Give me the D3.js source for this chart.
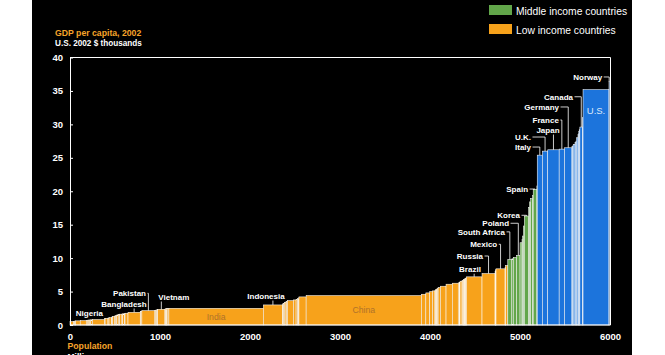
<!DOCTYPE html>
<html><head><meta charset="utf-8">
<script src="https://cdn.jsdelivr.net/npm/d3@7"></script>
<style>
html,body{margin:0;padding:0;background:#fff;}
svg{display:block;font-family:"Liberation Sans",Arial,Helvetica,sans-serif;}
</style></head><body>
<svg id="chart" width="665" height="355"></svg>
<script>
// ---------- DATA ----------
const countries = [
 "Sierra Leone","Tanzania","Malawi","Burundi","Eritrea","Congo, Dem. Rep.","Ethiopia","Niger","Mali","Madagascar",
 "Zambia","Mozambique","Nigeria","Chad","Kenya","Burkina Faso","Uganda","Benin","Rwanda","Nepal",
 "Cambodia","Senegal","Cameroon","Côte d'Ivoire","Uzbekistan","Haiti","Ghana","Laos","Sudan","Bangladesh",
 "Kyrgyzstan","Zimbabwe","Pakistan","Papua New Guinea","Angola","Azerbaijan","Moldova","Vietnam","Guinea","Georgia",
 "Tajikistan","Togo","Yemen","India","Indonesia","Nicaragua","Honduras","Bolivia","Sri Lanka","Armenia",
 "Ecuador","Egypt","Morocco","Syria","Guatemala","Jamaica","Philippines","China","Ukraine","Colombia",
 "Algeria","Peru","Dominican Republic","Paraguay","El Salvador","Jordan","Tunisia","Venezuela","Thailand","Turkey",
 "Iran","Kazakhstan","Namibia","Panama","Romania","Belarus","Bosnia and Herzegovina","Albania","Bulgaria","Lebanon",
 "Macedonia","Turkmenistan","Costa Rica","Libya","Botswana","Brazil","Russia","Latvia","Uruguay","Lithuania",
 "Mauritius","Mexico","Croatia","Estonia","Malaysia",
 "South Africa","Chile","Argentina","Poland","Saudi Arabia","Slovakia","Hungary","Czech Republic","Korea","Portugal",
 "Greece","Taiwan","Israel","Spain","New Zealand",
 "Italy","U.K.","Japan","France","Germany","Sweden","Finland","Australia","Belgium","Hong Kong",
 "Netherlands","Austria","Denmark","Switzerland","Canada","Ireland","U.S.","Norway"
];
// population, millions
const population = [
 5.0,35.0,11.0,6.6,4.0,52.0,67.0,11.5,11.4,16.4,
 10.7,18.5,133.0,8.3,31.5,12.0,25.0,6.6,8.2,24.1,
 12.5,10.0,15.7,16.4,25.3,8.3,20.0,5.5,33.0,136.0,
 5.0,13.0,145.0,5.4,13.2,8.2,4.3,80.4,8.4,5.2,
 6.2,4.8,19.0,1050.0,212.0,5.3,6.7,8.8,19.0,3.1,
 12.8,66.4,29.6,17.0,12.0,2.6,80.0,1281.0,48.7,43.5,
 31.3,26.7,8.6,5.5,6.4,5.2,9.8,25.2,62.5,69.6,
 66.0,14.9,2.0,3.0,22.4,9.9,4.1,3.1,7.9,4.4,
 2.0,4.8,4.0,5.4,1.7,174.5,145.0,2.3,3.4,3.5,
 1.2,101.0,4.4,1.4,24.3,
 45.0,15.6,37.0,38.6,22.0,5.4,10.2,10.2,47.6,10.4,
 11.0,22.5,6.6,41.0,3.9,
 57.5,59.2,127.1,59.5,82.5,8.9,5.2,19.7,10.3,6.8,
 16.1,8.1,5.4,7.3,31.4,3.9,288.4,4.5
];
// GDP per capita, 2002, US$ thousands
const gdpPerCapita = [
 0.50,0.52,0.55,0.58,0.60,0.62,0.66,0.70,0.72,0.74,
 0.76,0.78,0.82,0.98,1.00,1.05,1.10,1.15,1.22,1.30,
 1.38,1.45,1.52,1.58,1.62,1.65,1.68,1.72,1.76,1.90,
 2.00,2.05,2.15,2.20,2.22,2.26,2.30,2.35,2.40,2.42,
 2.43,2.44,2.46,2.50,3.00,3.10,3.20,3.25,3.40,3.50,
 3.55,3.65,3.75,3.85,3.95,4.05,4.20,4.40,4.60,4.80,
 5.00,5.10,5.20,5.30,5.35,5.40,5.50,5.60,5.80,6.10,
 6.25,6.30,6.35,6.40,6.55,6.65,6.70,6.72,6.80,6.85,
 6.88,6.90,6.95,7.00,7.05,7.20,7.70,8.00,8.05,8.20,
 8.30,8.40,8.60,8.70,8.90,
 9.80,9.90,10.10,10.40,12.30,12.80,13.30,14.80,16.30,17.60,
 18.40,18.90,19.40,20.30,20.80,
 25.40,26.00,26.20,26.30,26.50,26.70,26.80,27.00,27.30,27.50,
 28.00,28.50,28.90,29.20,29.60,31.00,35.20,36.40
];
// income group: L = low, M = middle, H = high
const incomeGroup = [].concat(
  Array(95).fill("L"), Array(15).fill("M"), Array(18).fill("H")
);
const yTicks = [0,5,10,15,20,25,30,35,40];
const xTicks = [0,1000,2000,3000,4000,5000,6000];
const legendItems = ["Middle income countries","Low income countries"];
const legendGroups = ["M","L"];

// ---------- STYLE / LAYOUT ----------
const colors = {L:"#f7a21b", M:"#62a64a", H:"#1c74dc"};
const orangeText = "#f7a52a";

const svg = d3.select("#chart");
svg.append("rect").attr("x",32).attr("y",0).attr("width",600).attr("height",355).attr("fill","#000");

const x = d3.scaleLinear().domain([0,6000]).range([70,610]);
const y = d3.scaleLinear().domain([0,40]).range([325,57.5]);

const cum = Array.from(d3.cumsum(population));
const bars = countries.map((c,i)=>({
  name:c, pop:population[i], gdp:gdpPerCapita[i], group:incomeGroup[i],
  start:cum[i]-population[i], end:cum[i]
}));
const byName = new Map(bars.map(d=>[d.name,d]));

// bars
svg.append("g").selectAll("rect").data(bars).join("rect")
  .attr("x",d=>x(d.start))
  .attr("y",d=>y(d.gdp))
  .attr("width",d=>Math.max(0.01,x(d.end)-x(d.start)))
  .attr("height",d=>y(0)-y(d.gdp))
  .attr("fill",d=>colors[d.group])
  .attr("stroke","#fff")
  .attr("stroke-width",0.55);

// frame
svg.append("path")
  .attr("d",`M${x(0)},${y(40)}H${x(6000)+0.5}V${y(0)}H${x(0)}`)
  .attr("fill","none").attr("stroke","#fff").attr("stroke-width",1);

// y axis
const yAxis = svg.append("g").attr("transform",`translate(${x(0)},0)`)
  .call(d3.axisLeft(y).tickValues(yTicks).tickSizeInner(-3).tickSizeOuter(0).tickPadding(7));
yAxis.select(".domain").attr("stroke","#fff");
yAxis.selectAll(".tick line").attr("stroke","#fff");
yAxis.selectAll(".tick text").attr("fill","#fff").attr("font-size",9.5).attr("font-weight","bold")
  .attr("font-family","Liberation Sans, Arial, sans-serif");

// x axis
const xAxis = svg.append("g").attr("transform",`translate(0,${y(0)})`)
  .call(d3.axisBottom(x).tickValues(xTicks).tickSize(0).tickPadding(8).tickFormat(d3.format("d")));
xAxis.select(".domain").remove();
xAxis.selectAll(".tick text").attr("fill","#fff").attr("font-size",9.5).attr("font-weight","bold")
  .attr("font-family","Liberation Sans, Arial, sans-serif");

// titles
svg.append("text").attr("x",55).attr("y",35.5).attr("fill",orangeText)
  .attr("font-size",8.7).attr("font-weight","bold")
  .text("GDP per capita, 2002");
svg.append("text").attr("x",55).attr("y",45.5).attr("fill","#fff")
  .attr("font-size",8.2).attr("font-weight","bold")
  .text("U.S. 2002 $ thousands");
svg.append("text").attr("x",67.5).attr("y",348.5).attr("fill",orangeText)
  .attr("font-size",8.7).attr("font-weight","bold").text("Population");
svg.append("text").attr("x",67.5).attr("y",359.5).attr("fill","#fff")
  .attr("font-size",8.5).attr("font-weight","bold").text("Millions");

// legend
const leg = svg.append("g");
legendItems.forEach((t,i)=>{
  leg.append("rect").attr("x",489).attr("y",5+i*19).attr("width",23).attr("height",10)
    .attr("fill",colors[legendGroups[i]]);
  leg.append("text").attr("x",516).attr("y",14.5+i*19.5).attr("fill","#fff")
    .attr("font-size",10.3).text(t);
});

// country labels (offsets relative to each bar's centre / top)
const labelLayout = [
 {name:"U.S.", type:"inside", dy:20.4, fill:"#dbe9fb", size:9.5},
 {name:"India", type:"middle", fill:"#b0722a", size:8.7},
 {name:"China", type:"middle", fill:"#b0722a", size:8.7},
 {name:"Norway", type:"side", dx:-7, dy:-1.6},
 {name:"Canada", type:"side", dx:-8.3, dy:-27.3},
 {name:"Germany", type:"side", dx:-9.2, dy:-37.8},
 {name:"France", type:"side", dx:-3, dy:-26.1},
 {name:"Japan", type:"below", dx:-5.5, dy:-16.8},
 {name:"U.K.", type:"side", dx:-14.1, dy:-11.1},
 {name:"Italy", type:"side", dx:-8.8, dy:-5.1},
 {name:"Spain", type:"side", dx:-7, dy:2.8},
 {name:"Korea", type:"side", dx:-6.5, dy:2.3},
 {name:"Poland", type:"side", dx:-9.3, dy:-29.2},
 {name:"South Africa", type:"side", dx:-4.8, dy:-24.6},
 {name:"Mexico", type:"side", dx:-3.3, dy:-21.5},
 {name:"Russia", type:"side", dx:-5.5, dy:-14.5},
 {name:"Brazil", type:"below", dx:-4.2, dy:-4.6},
 {name:"Indonesia", type:"below", dx:-6.9, dy:-5.9},
 {name:"Vietnam", type:"below", dx:12.5, dy:-9.3},
 {name:"Pakistan", type:"side", dx:-2.4, dy:-14.3},
 {name:"Bangladesh", type:"below", dx:-10.1, dy:-5.3},
 {name:"Nigeria", type:"above", dx:-9, dy:-3.8}
];
const lg = svg.append("g");
labelLayout.forEach(l=>{
  const d = byName.get(l.name);
  const cx = (x(d.start)+x(d.end))/2, top = y(d.gdp);
  if (l.type==="inside") {
    lg.append("text").attr("x",cx).attr("y",top+l.dy).attr("dominant-baseline","central")
      .attr("text-anchor","middle").attr("fill",l.fill).attr("font-size",l.size).text(l.name);
    return;
  }
  if (l.type==="middle") {
    lg.append("text").attr("x",cx).attr("y",(top+y(0))/2).attr("dominant-baseline","central")
      .attr("text-anchor","middle").attr("fill",l.fill).attr("font-size",l.size).text(l.name);
    return;
  }
  const bx = cx + l.dx, by = top + l.dy;
  const t = lg.append("text").attr("y",by).attr("fill","#fff").attr("font-size",8)
    .attr("font-weight","bold").text(l.name);
  if (l.type==="side") {
    t.attr("x",bx).attr("text-anchor","end");
    lg.append("path").attr("d",`M${bx+1.5},${by-3}H${cx}V${top}`)
      .attr("fill","none").attr("stroke","#fff").attr("stroke-width",0.8);
  } else if (l.type==="below") {
    t.attr("x",bx).attr("text-anchor","middle");
    lg.append("path").attr("d",`M${cx},${by+1.5}V${top}`)
      .attr("fill","none").attr("stroke","#fff").attr("stroke-width",0.8);
  } else {
    t.attr("x",bx).attr("text-anchor","middle");
  }
});
</script>
</body></html>
